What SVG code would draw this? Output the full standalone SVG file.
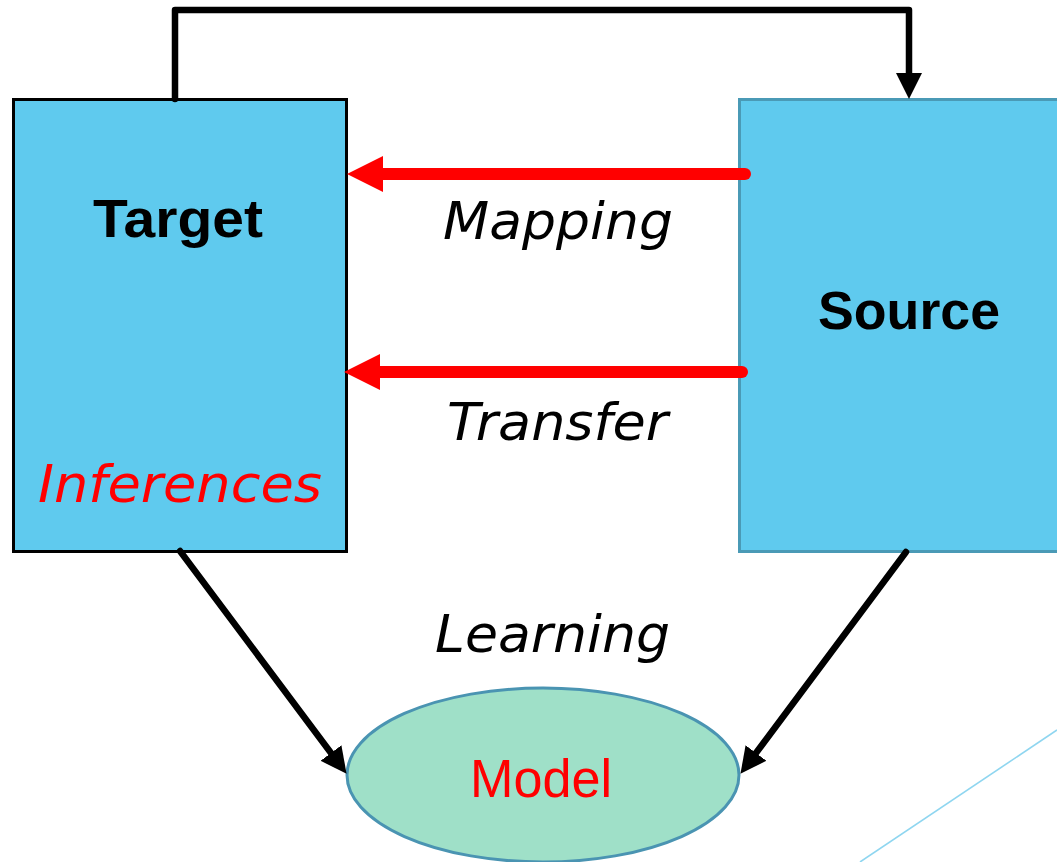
<svg xmlns="http://www.w3.org/2000/svg" width="1057" height="862" viewBox="0 0 1057 862">
  <style>
    .box { fill: #5FCAEE; }
    .lbl { font-family: "Liberation Sans", Arial, sans-serif; font-size: 54px; }
    .bold { font-weight: bold; fill: #000; }
    .ital { font-family: "DejaVu Sans", Verdana, sans-serif; font-style: italic; font-size: 52px; fill: #000; }
    .red { fill: #FF0000; }
    .blk { fill: none; stroke: #000; stroke-width: 6.5; stroke-linecap: round; stroke-linejoin: round; }
    .redln { fill: none; stroke: #FF0000; stroke-width: 12; stroke-linecap: round; }
  </style>
  <defs>
    <marker id="headBlack" markerUnits="userSpaceOnUse" markerWidth="28" markerHeight="28" refX="0" refY="13" orient="auto" viewBox="0 0 28 26">
      <path d="M0,0 L26,13 L0,26 z" fill="#000"/>
    </marker>
    <marker id="headRed" markerUnits="userSpaceOnUse" markerWidth="37" markerHeight="37" refX="0" refY="18" orient="auto" viewBox="0 0 37 36">
      <path d="M0,0 L36,18 L0,36 z" fill="#FF0000"/>
    </marker>
  </defs>

  <!-- decorative thin line, lower right -->
  <line x1="860" y1="862" x2="1057" y2="730" stroke="#8FD6F0" stroke-width="1.6"/>

  <g id="target">
    <rect class="box" x="13.5" y="99.5" width="333" height="452" stroke="#000" stroke-width="3"/>
    <text class="lbl bold" x="93" y="237" font-size="55" textLength="170" lengthAdjust="spacingAndGlyphs">Target</text>
    <text class="ital red" x="38" y="502" textLength="284" lengthAdjust="spacingAndGlyphs">Inferences</text>
  </g>

  <g id="source">
    <rect class="box" x="739.5" y="99.5" width="330" height="452" stroke="#4A9AB6" stroke-width="3"/>
    <text class="lbl bold" x="818" y="329" font-size="55" textLength="182" lengthAdjust="spacingAndGlyphs">Source</text>
  </g>

  <g id="model">
    <ellipse cx="543" cy="775" rx="196" ry="87" fill="#9FE0C8" stroke="#4A94B2" stroke-width="3"/>
    <text class="lbl red" x="470" y="797" font-size="53" textLength="142" lengthAdjust="spacingAndGlyphs">Model</text>
  </g>

  <g id="connectors">
    <!-- target to source over the top -->
    <path class="blk" d="M175,99 L175,10 L909,10 L909,73" marker-end="url(#headBlack)"/>
    <!-- mapping / transfer from source to target -->
    <path class="redln" d="M745,174 L383,174" marker-end="url(#headRed)"/>
    <path class="redln" d="M742,372 L380,372" marker-end="url(#headRed)"/>
    <!-- learning into the model -->
    <path class="blk" d="M180,551 L331,753" marker-end="url(#headBlack)"/>
    <path class="blk" d="M906,552 L756,753" marker-end="url(#headBlack)"/>
  </g>

  <g id="labels">
    <text class="ital" x="443" y="239" textLength="230" lengthAdjust="spacingAndGlyphs">Mapping</text>
    <text class="ital" x="447" y="440" textLength="221" lengthAdjust="spacingAndGlyphs">Transfer</text>
    <text class="ital" x="435" y="652" textLength="235" lengthAdjust="spacingAndGlyphs">Learning</text>
  </g>
</svg>
